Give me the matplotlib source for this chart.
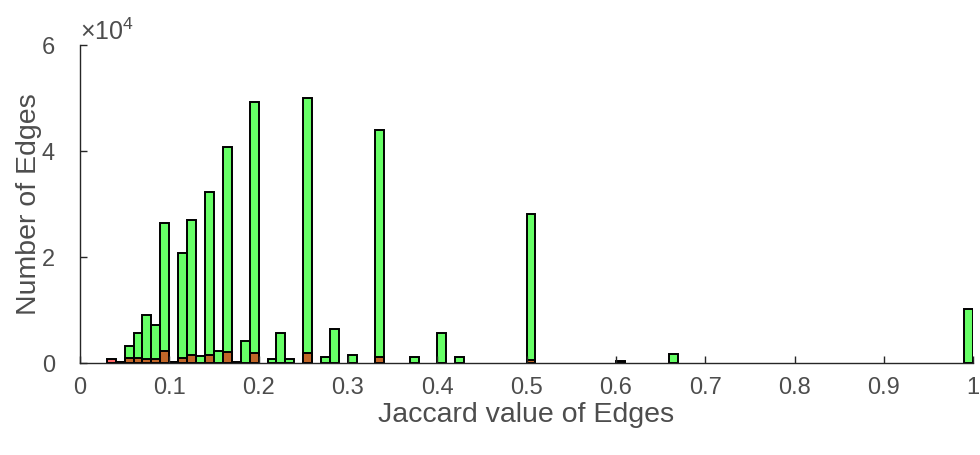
import matplotlib
matplotlib.use("Agg")
import matplotlib.pyplot as plt

plt.rcParams['font.family'] = ['Liberation Sans', 'DejaVu Sans']
plt.rcParams['mathtext.fontset'] = 'custom'
plt.rcParams['mathtext.rm'] = 'Liberation Sans'

bin_width = 0.01

# Green histogram (all edges): bin left edge -> count
green_left = [0.04, 0.05, 0.06, 0.07, 0.08, 0.09, 0.10, 0.11, 0.12, 0.13,
              0.14, 0.15, 0.16, 0.17, 0.18, 0.19, 0.21, 0.22, 0.23, 0.25,
              0.27, 0.28, 0.30, 0.33, 0.37, 0.40, 0.42, 0.50, 0.60, 0.66,
              0.99]
green_count = [200, 3250, 5600, 9000, 7150, 26450, 250, 20800, 26900, 1300,
               32250, 2250, 40800, 200, 4100, 49250, 700, 5700, 700, 49950,
               1100, 6400, 1450, 43950, 1100, 5700, 1100, 28050, 300, 1800,
               10200]

# Red histogram: bin left edge -> count
red_left = [0.03, 0.04, 0.05, 0.06, 0.07, 0.08, 0.09, 0.10, 0.11, 0.12,
            0.14, 0.16, 0.17, 0.19, 0.25, 0.33, 0.50, 0.60]
red_count = [700, 150, 1000, 1000, 700, 700, 2250, 150, 1000, 1500,
             1500, 2000, 100, 1950, 1950, 1100, 500, 200]

x_ticks = [0, 0.1, 0.2, 0.3, 0.4, 0.5, 0.6, 0.7, 0.8, 0.9, 1]
x_tick_labels = ['0', '0.1', '0.2', '0.3', '0.4', '0.5', '0.6', '0.7', '0.8', '0.9', '1']
y_ticks = [0, 20000, 40000, 60000]
y_tick_labels = ['0', '2', '4', '6']

fig = plt.figure(figsize=(9.8, 4.55), dpi=100)
ax = fig.add_axes([0.0816, 0.202, 0.9114, 0.699])

ax.bar(green_left, green_count, width=bin_width, align='edge',
       color=(0.0, 1.0, 0.0, 0.6), edgecolor='black', linewidth=1.4)
ax.bar(red_left, red_count, width=bin_width, align='edge',
       color=(1.0, 0.0, 0.0, 0.6), edgecolor='black', linewidth=1.4)

ax.set_xlim(0, 1)
ax.set_ylim(0, 60000)
ax.set_xticks(x_ticks)
ax.set_xticklabels(x_tick_labels)
ax.set_yticks(y_ticks)
ax.set_yticklabels(y_tick_labels)

dark = (0.15, 0.15, 0.15)
txt = (0.3, 0.3, 0.3)
for side in ['top', 'right']:
    ax.spines[side].set_visible(False)
for side in ['left', 'bottom']:
    ax.spines[side].set_color(dark)
    ax.spines[side].set_linewidth(1.0)
ax.tick_params(direction='in', length=5, width=1.0, colors=dark,
               labelcolor=txt, labelsize=17)
ax.tick_params(axis='x', pad=10)
ax.tick_params(axis='y', pad=18)

ax.set_xlabel('Jaccard value of Edges', fontsize=20.5, color=txt, labelpad=2)
ax.set_ylabel('Number of Edges', fontsize=20.5, color=txt, labelpad=0)
ax.text(0.0, 1.0, r'$\times10^{4}$', transform=ax.transAxes,
        fontsize=18, color=txt, ha='left', va='bottom')

fig.savefig('out.png', dpi=100)
